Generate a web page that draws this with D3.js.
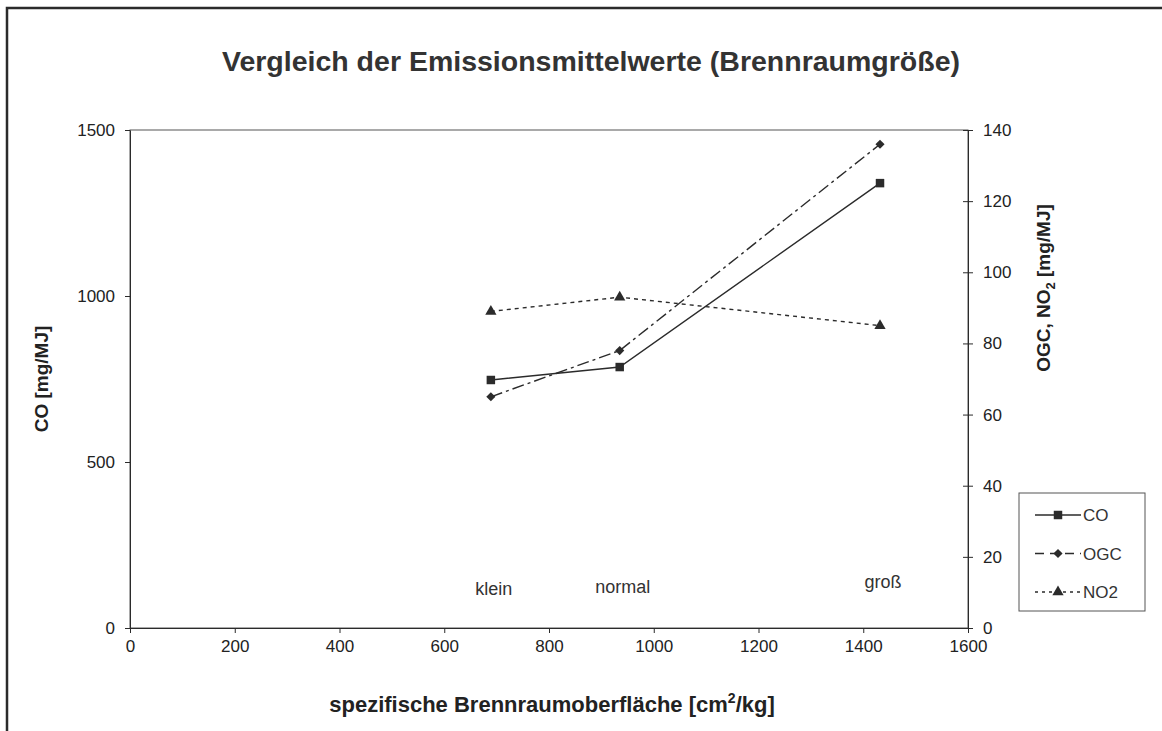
<!DOCTYPE html>
<html>
<head>
<meta charset="utf-8">
<script src="https://cdn.jsdelivr.net/npm/d3@7"></script>
<style>
  html, body { margin: 0; padding: 0; background: #fff; }
  svg text { font-family: "Liberation Sans", Arial, sans-serif; fill: #222; }
</style>
</head>
<body>
<div id="dataviz"></div>
<script>
// data
var categories = ["klein", "normal", "groß"];
var surface = [689, 935, 1432];          // cm²/kg
var coValues = [747, 786, 1340];         // mg/MJ, left axis
var ogcValues = [65, 78, 136];           // mg/MJ, right axis
var no2Values = [89, 93, 85];            // mg/MJ, right axis
var labelCO = [98, 104, 119];            // label height (left axis units)
var xTicks = [0, 200, 400, 600, 800, 1000, 1200, 1400, 1600];
var yLeftTicks = [0, 500, 1000, 1500];
var yRightTicks = [0, 20, 40, 60, 80, 100, 120, 140];

var W = 1162, H = 731;
var margin = { top: 130, right: 194, bottom: 103, left: 130 };
var width = W - margin.left - margin.right;   // 838
var height = H - margin.top - margin.bottom;  // 498
var ink = "#2b2b2b";

var svg = d3.select("#dataviz").append("svg")
    .attr("width", W)
    .attr("height", H);

// outer frame (runs off the right and bottom edge)
svg.append("rect")
    .attr("x", 7).attr("y", 8)
    .attr("width", 1300).attr("height", 900)
    .attr("fill", "none")
    .attr("stroke", ink)
    .attr("stroke-width", 2.5);

svg.append("text")
    .attr("x", 591).attr("y", 71)
    .attr("text-anchor", "middle")
    .style("font-size", "28.5px")
    .style("font-weight", "bold")
    .style("fill", "#333")
    .text("Vergleich der Emissionsmittelwerte (Brennraumgröße)");

var g = svg.append("g")
    .attr("transform", "translate(" + margin.left + "," + margin.top + ")");

var x = d3.scaleLinear().domain([0, 1600]).range([0, width]);
var yL = d3.scaleLinear().domain([0, 1500]).range([height, 0]);
var yR = d3.scaleLinear().domain([0, 140]).range([height, 0]);

// plot area border
g.append("rect")
    .attr("width", width).attr("height", height)
    .attr("fill", "none")
    .attr("stroke", "#555")
    .attr("stroke-width", 1);

function styleAxis(sel) {
    sel.select(".domain").attr("stroke", ink);
    sel.selectAll(".tick line").attr("stroke", ink);
    sel.selectAll(".tick text")
        .style("font-family", "'Liberation Sans', Arial, sans-serif")
        .style("font-size", "17px")
        .attr("fill", "#333");
}

var fmt = d3.format("d");

g.append("g")
    .attr("transform", "translate(0," + height + ")")
    .call(d3.axisBottom(x).tickValues(xTicks).tickFormat(fmt).tickSize(5).tickPadding(7).tickSizeOuter(0))
    .call(styleAxis);

g.append("g")
    .call(d3.axisLeft(yL).tickValues(yLeftTicks).tickFormat(fmt).tickSize(5).tickPadding(10).tickSizeOuter(0))
    .call(styleAxis);

var right = g.append("g")
    .attr("transform", "translate(" + width + ",0)")
    .call(d3.axisRight(yR).tickValues(yRightTicks).tickFormat(fmt).tickSize(5).tickPadding(10).tickSizeOuter(0))
    .call(styleAxis);
// ticks cross the right axis
right.selectAll(".tick line").attr("x1", -5);

// axis titles
svg.append("text")
    .attr("transform", "translate(48," + 379 + ") rotate(-90)")
    .attr("text-anchor", "middle")
    .style("font-size", "19px").style("font-weight", "bold")
    .text("CO [mg/MJ]");

var rt = svg.append("text")
    .attr("transform", "translate(1050," + 288 + ") rotate(-90)")
    .attr("text-anchor", "middle")
    .style("font-size", "19px").style("font-weight", "bold");
rt.append("tspan").text("OGC, NO");
rt.append("tspan").attr("dy", 5).style("font-size", "13px").text("2");
rt.append("tspan").attr("dy", -5).text(" [mg/MJ]");

var xt = svg.append("text")
    .attr("x", 552).attr("y", 712)
    .attr("text-anchor", "middle")
    .style("font-size", "22px").style("font-weight", "bold");
xt.append("tspan").text("spezifische Brennraumoberfläche [cm");
xt.append("tspan").attr("dy", -9).style("font-size", "14px").text("2");
xt.append("tspan").attr("dy", 9).text("/kg]");

// series
var series = [
    { name: "CO", values: coValues, y: yL, dash: null, symbol: d3.symbolSquare, size: 72, rot: 0 },
    { name: "OGC", values: ogcValues, y: yR, dash: "12,4,3,4", symbol: d3.symbolSquare, size: 42, rot: 45 },
    { name: "NO2", values: no2Values, y: yR, dash: "4,4", symbol: d3.symbolTriangle, size: 55, rot: 0 }
];

series.forEach(function(s) {
    var pts = surface.map(function(k, i) { return [k, s.values[i]]; });
    var line = d3.line().x(d => x(d[0])).y(d => s.y(d[1]));
    g.append("path")
        .datum(pts)
        .attr("d", line)
        .attr("fill", "none")
        .attr("stroke", ink)
        .attr("stroke-width", 1.4)
        .attr("stroke-dasharray", s.dash);
    g.selectAll(null).data(pts).enter().append("path")
        .attr("d", d3.symbol().type(s.symbol).size(s.size))
        .attr("transform", d => "translate(" + x(d[0]) + "," + s.y(d[1]) + ") rotate(" + s.rot + ")")
        .attr("fill", ink);
});

// category labels
g.selectAll(null).data(categories).enter().append("text")
    .attr("x", (d, i) => x(surface[i]) + 3)
    .attr("y", (d, i) => yL(labelCO[i]))
    .attr("text-anchor", "middle")
    .style("font-size", "18px")
    .style("fill", "#333")
    .text(d => d);

// legend
var lg = svg.append("g").attr("transform", "translate(1019,493)");
lg.append("rect")
    .attr("width", 126).attr("height", 118)
    .attr("fill", "#fff")
    .attr("stroke", "#555");
series.forEach(function(s, i) {
    var yy = 22 + i * 38.5;
    lg.append("line")
        .attr("x1", 16).attr("x2", 62)
        .attr("y1", yy).attr("y2", yy)
        .attr("stroke", ink).attr("stroke-width", 1.4)
        .attr("stroke-dasharray", s.dash ? (i === 1 ? "9,6" : "3,4") : null);
    lg.append("path")
        .attr("d", d3.symbol().type(s.symbol).size(s.size))
        .attr("transform", "translate(39," + yy + ") rotate(" + s.rot + ")")
        .attr("fill", ink);
    lg.append("text")
        .attr("x", 64).attr("y", yy + 6)
        .style("font-size", "17px")
        .style("fill", "#333")
        .text(s.name);
});
</script>
</body>
</html>
